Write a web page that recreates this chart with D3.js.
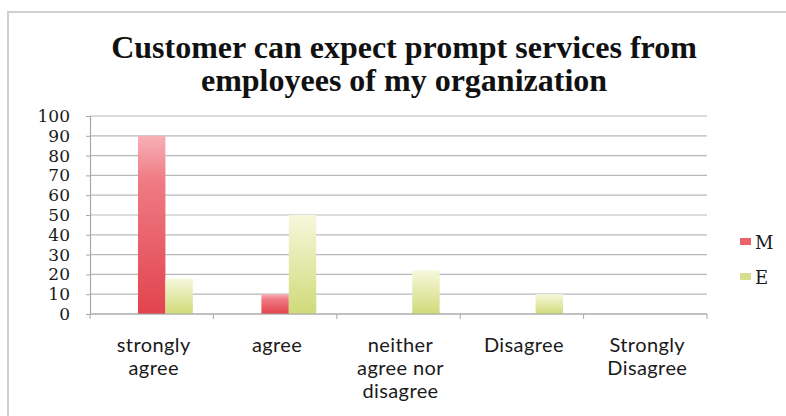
<!DOCTYPE html>
<html>
<head>
<meta charset="utf-8">
<script src="https://cdn.jsdelivr.net/npm/d3@7/dist/d3.min.js"></script>
<style>
  html, body { margin: 0; padding: 0; background: #ffffff; }
  svg { display: block; }
</style>
</head>
<body>
<svg id="chart" width="786" height="416"></svg>
<script>
// Survey responses (percent) by group
const categories = [
  ["strongly", "agree"],
  ["agree"],
  ["neither", "agree nor", "disagree"],
  ["Disagree"],
  ["Strongly", "Disagree"]
];
const seriesNames = ["M", "E"];
const valuesM = [90, 10, 0, 0, 0];
const valuesE = [18, 50, 22, 10, 0];
const yTicks = [0, 10, 20, 30, 40, 50, 60, 70, 80, 90, 100];
const titleLines = ["Customer can expect prompt services from", "employees of my organization"];

const svg = d3.select("#chart");
const W = 786, H = 416;
const plot = { left: 90, right: 707, top: 116, bottom: 314 };

// outer frame of the chart box
svg.append("rect")
  .attr("x", 8).attr("y", 12).attr("width", W).attr("height", H)
  .attr("fill", "#ffffff").attr("stroke", "#cfcfcf").attr("stroke-width", 2);

// gradients for the bars
const defs = svg.append("defs");
const gradM = defs.append("linearGradient").attr("id", "gM").attr("x1", 0).attr("y1", 0).attr("x2", 0).attr("y2", 1);
gradM.append("stop").attr("offset", "0%").attr("stop-color", "#f8b0b7");
gradM.append("stop").attr("offset", "25%").attr("stop-color", "#ef7b84");
gradM.append("stop").attr("offset", "100%").attr("stop-color", "#e2434d");
const gradE = defs.append("linearGradient").attr("id", "gE").attr("x1", 0).attr("y1", 0).attr("x2", 0).attr("y2", 1);
gradE.append("stop").attr("offset", "0%").attr("stop-color", "#f6f8dc");
gradE.append("stop").attr("offset", "100%").attr("stop-color", "#d0da78");
const fills = { M: "url(#gM)", E: "url(#gE)" };
const legendColors = { M: "#e9626c", E: "#d6de92" };

// scales
const catIdx = categories.map((d, i) => i);
const x0 = d3.scaleBand().domain(catIdx).range([plot.left, plot.right]).padding(0);
const bw = x0.bandwidth();
const slot = bw / 4.5; // each bar occupies one slot; gaps fill the rest
const x1 = d3.scaleBand().domain(seriesNames).range([1.75 * slot, 3.75 * slot]).padding(0);
const y = d3.scaleLinear().domain([0, 100]).range([plot.bottom, plot.top]);

// horizontal gridlines
svg.append("g").selectAll("line").data(yTicks).join("line")
  .attr("x1", plot.left).attr("x2", plot.right)
  .attr("y1", d => y(d)).attr("y2", d => y(d))
  .attr("stroke", "#b8b8b8").attr("stroke-width", 1.2);

// y axis
const yAxis = svg.append("g")
  .attr("transform", `translate(${plot.left},0)`)
  .call(d3.axisLeft(y).tickValues(yTicks).tickSize(4).tickPadding(16).tickFormat(d3.format("d")));
yAxis.select(".domain").attr("stroke", "#a8a8a8").attr("stroke-width", 1.2);
yAxis.selectAll(".tick line").attr("stroke", "#a8a8a8");
yAxis.selectAll(".tick text")
  .attr("font-family", "'DejaVu Serif', serif")
  .attr("font-size", 17).attr("fill", "#1a1a1a");

// bars
const data = catIdx.map(i => ({ i, M: valuesM[i], E: valuesE[i] }));
svg.append("g").selectAll("g").data(data).join("g")
  .attr("transform", d => `translate(${x0(d.i)},0)`)
  .selectAll("rect")
  .data(d => seriesNames.map(k => ({ key: k, value: d[k] })))
  .join("rect")
  .attr("x", d => x1(d.key))
  .attr("width", x1.bandwidth())
  .attr("y", d => y(d.value))
  .attr("height", d => y(0) - y(d.value))
  .attr("fill", d => fills[d.key]);

// x axis
const xAxisScale = d3.scaleLinear().domain([0, categories.length]).range([plot.left, plot.right]);
const xAxis = svg.append("g").attr("transform", `translate(0,${plot.bottom})`);
xAxis.append("line")
  .attr("x1", plot.left).attr("x2", plot.right)
  .attr("stroke", "#a8a8a8").attr("stroke-width", 1.2);
xAxis.selectAll("line.tk").data(d3.range(0, categories.length + 1)).join("line")
  .attr("class", "tk")
  .attr("x1", d => xAxisScale(d)).attr("x2", d => xAxisScale(d))
  .attr("y1", 0).attr("y2", 5)
  .attr("stroke", "#a8a8a8");

// category labels
const catLabels = svg.append("g");
categories.forEach((lines, i) => {
  const cx = x0(i) + bw / 2 + 2;
  const t = catLabels.append("text")
    .attr("x", cx)
    .attr("y", 352)
    .attr("text-anchor", "middle")
    .attr("font-family", "Lato, 'Noto Sans', sans-serif")
    .attr("font-size", 20)
    .attr("letter-spacing", 0.4)
    .attr("fill", "#1a1a1a");
  lines.forEach((ln, j) => {
    t.append("tspan").attr("x", cx).attr("dy", j === 0 ? 0 : 23).text(ln);
  });
});

// title
const title = svg.append("text")
  .attr("text-anchor", "middle")
  .attr("font-family", "'Liberation Serif', serif")
  .attr("font-weight", "bold")
  .attr("font-size", 32)
  .attr("fill", "#111");
titleLines.forEach((ln, j) => {
  title.append("tspan").attr("x", 404).attr("y", 58 + j * 33).text(ln);
});

// legend
const legend = svg.append("g");
seriesNames.forEach((k, j) => {
  const ly = 242 + j * 35;
  legend.append("rect").attr("x", 740).attr("y", ly - 4).attr("width", 11).attr("height", 7)
    .attr("fill", legendColors[k]);
  legend.append("text").attr("x", 755).attr("y", ly + 7)
    .attr("font-family", "'DejaVu Serif', serif").attr("font-size", 18)
    .attr("fill", "#1a1a1a").text(k);
});
</script>
</body>
</html>
